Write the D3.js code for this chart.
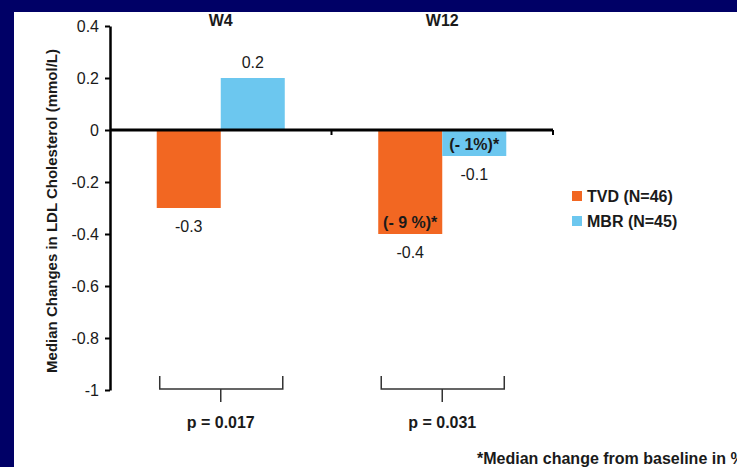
<!DOCTYPE html>
<html>
<head>
<meta charset="utf-8">
<script src="https://cdn.jsdelivr.net/npm/d3@7"></script>
<style>
  html, body { margin: 0; padding: 0; background: #000066; }
  svg { display: block; }
  text { font-family: "Liberation Sans", Arial, sans-serif; fill: #1a1a1a; }
</style>
</head>
<body>
<svg id="chart" width="737" height="467"></svg>
<script>
// Visits and treatment arms
const categories = ["W4", "W12"];
const seriesKeys = ["TVD", "MBR"];
const seriesNames = ["TVD (N=46)", "MBR (N=45)"];
const seriesColors = ["#F26722", "#6CC7EF"];

// Median change in LDL cholesterol (mmol/L), per visit
const tvdValues = [-0.3, -0.4];
const mbrValues = [0.2, -0.1];

// Median % change from baseline (shown inside bars)
const tvdPercent = ["", "(- 9 %)*"];
const mbrPercent = ["", "(- 1%)*"];

// Between-arm p-values per visit
const pLabels = ["p = 0.017", "p = 0.031"];

// Y axis ticks
const yTickValues = [0.4, 0.2, 0, -0.2, -0.4, -0.6, -0.8, -1];
const yTickLabels = ["0.4", "0.2", "0", "-0.2", "-0.4", "-0.6", "-0.8", "-1"];

const yTitle = "Median Changes in LDL Cholesterol (mmol/L)";
const footnote = "*Median change from baseline in %";

const svg = d3.select("#chart");
const W = 737, H = 467;

// navy frame with white panel
svg.append("rect").attr("width", W).attr("height", H).attr("fill", "#000066");
svg.append("rect").attr("x", 14).attr("y", 12).attr("width", W - 14).attr("height", H - 12).attr("fill", "#ffffff");

const x0 = d3.scaleBand().domain(categories).range([110, 553]).paddingInner(0).paddingOuter(0);
const x1 = d3.scaleBand().domain(seriesKeys).range([0, x0.bandwidth()]).paddingInner(0).paddingOuter(0.73);
const y = d3.scaleLinear().domain([-1, 0.4]).range([390, 26]);

const rows = categories.map((c, i) => ({
  cat: c,
  bars: [
    { key: "TVD", value: tvdValues[i], pct: tvdPercent[i], color: seriesColors[0] },
    { key: "MBR", value: mbrValues[i], pct: mbrPercent[i], color: seriesColors[1] }
  ]
}));

const groups = svg.append("g").selectAll("g.grp")
  .data(rows).join("g")
  .attr("class", "grp")
  .attr("transform", d => `translate(${x0(d.cat)},0)`);

// bars
groups.selectAll("rect.bar")
  .data(d => d.bars).join("rect")
  .attr("class", "bar")
  .attr("x", d => x1(d.key))
  .attr("width", x1.bandwidth())
  .attr("y", d => y(Math.max(0, d.value)))
  .attr("height", d => Math.abs(y(d.value) - y(0)))
  .attr("fill", d => d.color);

// value labels
groups.selectAll("text.val")
  .data(d => d.bars).join("text")
  .attr("class", "val")
  .attr("x", d => x1(d.key) + x1.bandwidth() / 2)
  .attr("y", d => d.value >= 0 ? y(d.value) - 10 : y(d.value) + 24)
  .attr("text-anchor", "middle")
  .attr("font-size", 16)
  .text(d => String(d.value));

// percent labels inside bars
groups.selectAll("text.pct")
  .data(d => d.bars.filter(b => b.pct)).join("text")
  .attr("class", "pct")
  .attr("x", d => x1(d.key) + x1.bandwidth() / 2)
  .attr("y", d => y(d.value) - 6)
  .attr("text-anchor", "middle")
  .attr("font-size", 16)
  .attr("font-weight", "bold")
  .text(d => d.pct);

// visit labels
svg.selectAll("text.cat")
  .data(categories).join("text")
  .attr("class", "cat")
  .attr("x", d => x0(d) + x0.bandwidth() / 2)
  .attr("y", y(0.4))
  .attr("text-anchor", "middle")
  .attr("font-size", 16)
  .attr("font-weight", "bold")
  .text(d => d);

// y axis
const yAxis = svg.append("g")
  .attr("transform", `translate(${x0.range()[0]},0)`)
  .call(d3.axisLeft(y).tickValues(yTickValues).tickSize(5).tickSizeOuter(0).tickPadding(6)
    .tickFormat((d, i) => yTickLabels[i]));
yAxis.select(".domain").attr("stroke", "#000").attr("stroke-width", 2.5);
yAxis.selectAll(".tick line").attr("stroke", "#000").attr("stroke-width", 2);
yAxis.selectAll(".tick text").attr("font-size", 16).attr("fill", "#1a1a1a")
  .attr("font-family", "Liberation Sans, Arial, sans-serif");

// zero baseline with category-boundary ticks
const [xa, xb] = x0.range();
svg.append("line").attr("x1", xa).attr("x2", xb).attr("y1", y(0)).attr("y2", y(0))
  .attr("stroke", "#000").attr("stroke-width", 3);
const bounds = categories.slice(1).map(c => x0(c)).concat([xb]);
svg.selectAll("line.btick").data(bounds).join("line")
  .attr("class", "btick")
  .attr("x1", d => d).attr("x2", d => d)
  .attr("y1", y(0)).attr("y2", y(0) + 5)
  .attr("stroke", "#000").attr("stroke-width", 2);

// y title
svg.append("text")
  .attr("transform", `translate(57,${(y(0.4) + y(-1)) / 2 + 3}) rotate(-90)`)
  .attr("text-anchor", "middle")
  .attr("font-size", 15)
  .attr("font-weight", "bold")
  .text(yTitle);

// significance brackets
const bBottom = y(-1) - 1, bTop = bBottom - 13, bStem = bBottom + 13;
rows.forEach((r, i) => {
  const left = x0(r.cat) + x1("TVD") + 3;
  const right = x0(r.cat) + x1("MBR") + x1.bandwidth() - 2;
  const mid = x0(r.cat) + x0.bandwidth() / 2;
  svg.append("path")
    .attr("d", `M${left},${bTop}V${bBottom}H${right}V${bTop}M${mid},${bBottom}V${bStem}`)
    .attr("fill", "none").attr("stroke", "#333").attr("stroke-width", 1.5);
  svg.append("text")
    .attr("x", mid).attr("y", y(-1) + 38)
    .attr("text-anchor", "middle")
    .attr("font-size", 16).attr("font-weight", "bold")
    .text(pLabels[i]);
});

// legend
const legend = svg.append("g").attr("transform", "translate(572,191)");
seriesNames.forEach((n, i) => {
  const g = legend.append("g").attr("transform", `translate(0,${i * 25})`);
  g.append("rect").attr("width", 10).attr("height", 10).attr("fill", seriesColors[i]);
  g.append("text").attr("x", 15).attr("y", 10.5)
    .attr("font-size", 16).attr("font-weight", "bold").text(n);
});

// footnote (runs to the right edge of the panel)
svg.append("text").attr("x", 477).attr("y", 464)
  .attr("font-size", 16).attr("font-weight", "bold").text(footnote);
</script>
</body>
</html>
